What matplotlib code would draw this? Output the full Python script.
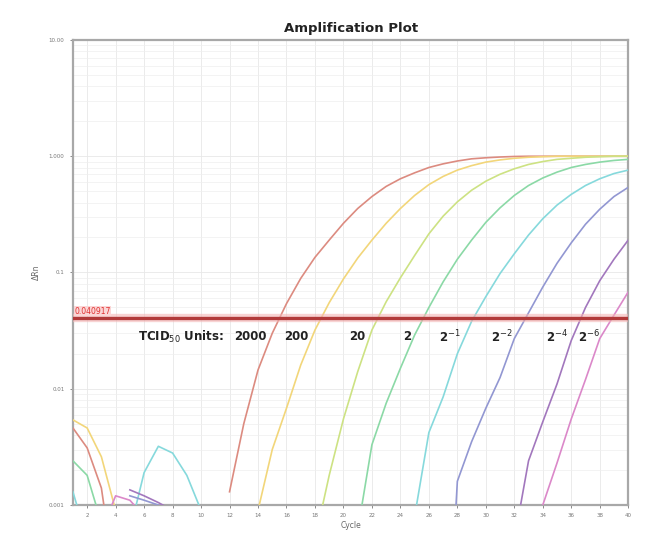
"""
Amplification plot (qPCR) of a TCID50 dilution series on a log dRn axis.
"""

import matplotlib

matplotlib.use("Agg")
import matplotlib.pyplot as plt
import numpy as np
from matplotlib.ticker import FixedLocator, LogLocator, NullFormatter

nan = float("nan")

cycles = list(range(1, 41))

# dRn per cycle; nan = no positive value drawn
drn_2000 = [0.0046, 0.0031, 0.0014, 0.0002, nan, nan, nan, nan, nan, nan, nan,
            0.0013, 0.0050, 0.0145, 0.030, 0.054, 0.089, 0.135, 0.19, 0.265,
            0.355, 0.45, 0.55, 0.64, 0.72, 0.80, 0.86, 0.91, 0.95, 0.97, 0.985,
            0.995, 1.0, 1.0, 1.0, 1.0, 1.0, 1.0, 1.0, 1.0]
drn_200 = [0.0054, 0.0046, 0.0026, 0.0009, 0.0002, nan, nan, nan, nan, nan,
           nan, nan, nan, 0.0009, 0.0030, 0.0068, 0.016, 0.032, 0.055, 0.088,
           0.133, 0.19, 0.265, 0.355, 0.46, 0.57, 0.67, 0.76, 0.83, 0.89, 0.93,
           0.96, 0.98, 0.99, 1.0, 1.0, 1.0, 1.0, 1.0, 1.0]
drn_20 = [nan, nan, nan, nan, nan, nan, nan, nan, nan, nan, nan, nan, nan,
          nan, nan, nan, nan, 0.0005, 0.0018, 0.0055, 0.014, 0.032, 0.056,
          0.09, 0.14, 0.215, 0.305, 0.405, 0.51, 0.61, 0.70, 0.78, 0.85, 0.90,
          0.94, 0.96, 0.98, 0.99, 1.0, 1.0]
drn_2 = [0.0024, 0.0018, 0.0007, nan, nan, nan, nan, nan, nan, nan, nan, nan,
         nan, nan, nan, nan, nan, nan, nan, nan, 0.0006, 0.0033, 0.0075,
         0.015, 0.029, 0.05, 0.083, 0.13, 0.19, 0.27, 0.36, 0.46, 0.56, 0.65,
         0.73, 0.80, 0.85, 0.89, 0.92, 0.94]
drn_2m1 = [0.0013, 0.0005, nan, nan, 0.0006, 0.0019, 0.0032, 0.0028, 0.0018,
           0.0009, 0.0002, nan, nan, nan, nan, nan, nan, nan, nan, nan, nan,
           nan, nan, nan, 0.0008, 0.0042, 0.0085, 0.02, 0.038, 0.062, 0.098,
           0.145, 0.21, 0.29, 0.38, 0.47, 0.56, 0.64, 0.71, 0.76]
drn_2m2 = [nan, nan, nan, nan, 0.0012, 0.0011, 0.0010, 0.0008, nan, nan, nan,
           nan, nan, nan, nan, nan, nan, nan, nan, nan, nan, nan, nan, nan,
           nan, nan, 0.00001, 0.0016, 0.0035, 0.0068, 0.0125, 0.027, 0.045,
           0.075, 0.12, 0.18, 0.26, 0.35, 0.45, 0.54]
drn_2m4 = [nan, nan, nan, nan, 0.00135, 0.0012, 0.00105, 0.0009, nan, nan,
           nan, nan, nan, nan, nan, nan, nan, nan, nan, nan, nan, nan, nan,
           nan, nan, nan, nan, nan, nan, nan, nan, 0.0005, 0.0024, 0.0052,
           0.011, 0.026, 0.05, 0.085, 0.13, 0.19]
drn_2m6 = [nan, nan, 0.0006, 0.0012, 0.0011, 0.0008, nan, nan, nan, nan, nan,
           nan, nan, nan, nan, nan, nan, nan, nan, nan, nan, nan, nan, nan,
           nan, nan, nan, nan, nan, nan, nan, nan, 0.0002, 0.001, 0.0023,
           0.0055, 0.012, 0.027, 0.043, 0.068]

series_labels = ["2000", "200", "20", "2", "2$^{-1}$", "2$^{-2}$",
                 "2$^{-4}$", "2$^{-6}$"]
series_values = [drn_2000, drn_200, drn_20, drn_2, drn_2m1, drn_2m2,
                 drn_2m4, drn_2m6]
series_colors = ["#dc8b80", "#f2d67a", "#cde283", "#8bd9a6", "#86d9dc",
                 "#9297d2", "#a277bd", "#db88c9"]

threshold = 0.040917
y_ticks = [0.001, 0.01, 0.1, 1, 10]
y_tick_labels = ["0.001", "0.01", "0.1", "1.000", "10.00"]
x_ticks = list(range(2, 41, 2))


def threshold_crossing(values):
    """Cycle where a curve first passes the threshold (log interpolation)."""
    arr = np.asarray(values, dtype=float)
    for i in range(len(arr) - 1):
        a, b = arr[i], arr[i + 1]
        if np.isnan(a) or np.isnan(b) or i < 10:
            continue
        if a < threshold <= b:
            frac = (np.log10(threshold) - np.log10(a)) / (np.log10(b) - np.log10(a))
            return cycles[i] + frac
    return None


fig = plt.figure(figsize=(6.51, 5.33), dpi=100)
ax = fig.add_axes([0.112, 0.0525, 0.853, 0.8725])

for values, color in zip(series_values, series_colors):
    ax.plot(cycles, values, color=color, linewidth=1.2, zorder=3,
            solid_joinstyle="round")

# threshold line with a soft pink halo
ax.axhline(threshold, color="#f4b6b6", linewidth=6, alpha=0.6, zorder=4)
ax.axhline(threshold, color="#b23a3a", linewidth=2.4, zorder=5)
ax.text(1.1, threshold * 1.04, f"{threshold:.6f}", color="#e03030",
        fontsize=5.5, ha="left", va="bottom", zorder=6,
        bbox=dict(boxstyle="square,pad=0.1", fc="#fbd6d6", ec="none"))

text_y = 0.028
red_cross = threshold_crossing(drn_2000)
ax.text(red_cross - 3.9, text_y, "TCID$_{50}$ Units:", fontsize=8.5,
        fontweight="bold", color="#222222", ha="right", va="center", zorder=6)
for values, label in zip(series_values, series_labels):
    cross = threshold_crossing(values)
    ax.text(cross - 0.9, text_y, label, fontsize=8.5, fontweight="bold",
            color="#222222", ha="right", va="center", zorder=6)

ax.set_yscale("log")
ax.set_xlim(1, 40)
ax.set_ylim(0.001, 10)

ax.yaxis.set_major_locator(FixedLocator(y_ticks))
ax.set_yticklabels(y_tick_labels)
ax.yaxis.set_minor_locator(LogLocator(base=10, subs=np.arange(2, 10)))
ax.yaxis.set_minor_formatter(NullFormatter())
ax.set_xticks(x_ticks)
ax.set_xticklabels([str(t) for t in x_ticks])

ax.tick_params(axis="both", which="major", labelsize=4, colors="#777777",
               length=2.5, width=0.6)
ax.tick_params(axis="y", which="minor", length=0)

ax.grid(True, which="major", color="#e8e8e8", linewidth=0.6, zorder=0)
ax.grid(True, which="minor", axis="y", color="#efefef", linewidth=0.5, zorder=0)

for spine in ax.spines.values():
    spine.set_color("#a8a8a8")
    spine.set_linewidth(1.6)

ax.set_title("Amplification Plot", fontsize=9.5, fontweight="bold",
             color="#222222", pad=6)
ax.set_xlabel("Cycle", fontsize=5.5, color="#666666", labelpad=2)
ax.set_ylabel("ΔRn", fontsize=5.5, color="#666666", labelpad=6)

fig.savefig("out.png", dpi=100, facecolor="white")
